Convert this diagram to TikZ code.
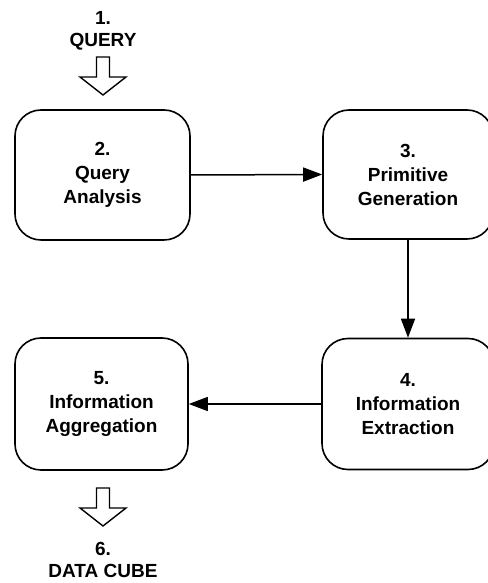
\documentclass[tikz,border=0pt]{standalone}
\usepackage{fontspec}
\setmainfont{Liberation Sans}
\usetikzlibrary{arrows.meta}
\begin{document}
\begin{tikzpicture}[x=1pt,y=1pt,
  stepbox/.style={draw,line width=1.6pt,rounded corners=26pt,align=center,
    font=\bfseries\fontsize{19}{24}\selectfont,inner sep=0pt},
  lbl/.style={align=center,font=\bfseries\fontsize{19}{22.5}\selectfont,inner sep=0pt},
  flow/.style={line width=1.5pt,-{Triangle[length=19pt,width=14pt]}},
  hollow/.style={draw,line width=1.4pt,fill=white,line join=miter}]
\useasboundingbox (0,0) rectangle (487,583);
\node[lbl] (q) at (103,552) {1.\\QUERY};
\node[stepbox,minimum width=175pt,minimum height=130pt] (s2) at (102.5,408) {2.\\Query\\Analysis};
\node[stepbox,minimum width=170pt,minimum height=129pt] (s3) at (408,408.5) {3.\\Primitive\\Generation};
\node[stepbox,minimum width=172pt,minimum height=131pt] (s4) at (408,179) {4.\\Information\\Extraction};
\node[stepbox,minimum width=173pt,minimum height=132pt] (s5) at (101.5,179) {5.\\Information\\Aggregation};
\node[lbl] (dc) at (103,23) {6.\\DATA CUBE};
\draw[flow] (s2.east) -- (s3.west);
\draw[flow] (s3.south) -- (s4.north);
\draw[flow] (s4.west) -- (s5.east);
\coordinate (a1) at (103,526);
\coordinate (a2) at (103,95);
\foreach \c in {a1,a2}{
  \path[hollow] (\c) ++(-6.5,0) -- ++(0,-20) -- ++(-16.5,0) -- ++(23,-18) -- ++(23,18) -- ++(-16.5,0) -- ++(0,20) -- cycle;
}
\end{tikzpicture}
\end{document}
